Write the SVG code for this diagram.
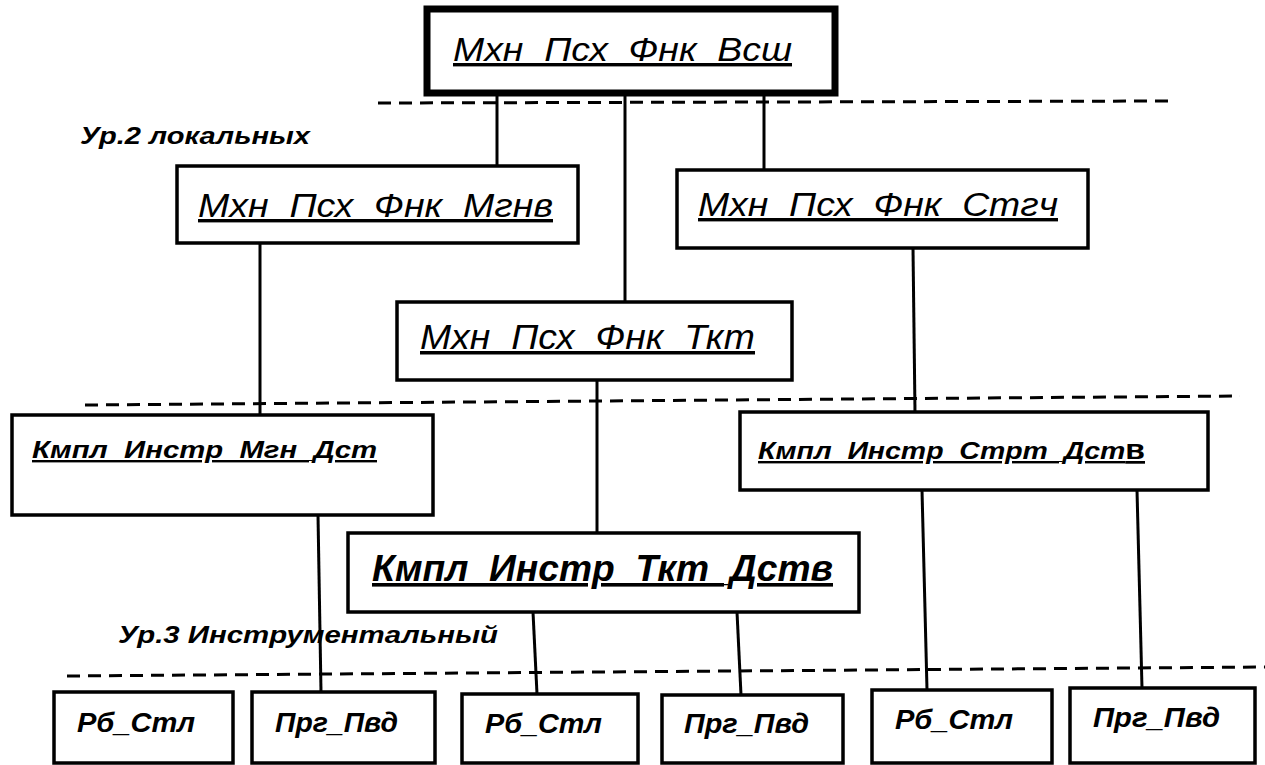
<svg xmlns="http://www.w3.org/2000/svg" width="1265" height="765" viewBox="0 0 1265 765">
<style>
.box{fill:#fff;stroke:#000;stroke-width:3.5}
.top{fill:#fff;stroke:#000;stroke-width:7}
.t{font-family:"Liberation Sans",Arial,sans-serif;font-style:italic;fill:#000;text-decoration:underline;text-decoration-thickness:2.5px}
.b{font-family:"Liberation Sans",Arial,sans-serif;font-style:italic;font-weight:bold;fill:#000}
.u{text-decoration:underline;text-decoration-thickness:3px}
.ln{stroke:#000;stroke-width:3;fill:none}
.dash{stroke:#000;stroke-width:3;fill:none;stroke-dasharray:13 8}
</style>
<rect width="1265" height="765" fill="#fff"/>
<g id="levels">
<line class="dash" x1="378" y1="103" x2="1175" y2="101"/>
<line class="dash" x1="85" y1="405" x2="1240" y2="396"/>
<line class="dash" x1="67" y1="676" x2="1265" y2="667"/>
<text class="b" x="80" y="144" font-size="23" textLength="230" lengthAdjust="spacingAndGlyphs">Ур.2 локальных</text>
<text class="b" x="118" y="643" font-size="24" textLength="380" lengthAdjust="spacingAndGlyphs">Ур.3 Инструментальный</text>
</g>
<g id="connectors">
<line class="ln" x1="497" y1="93" x2="497" y2="166"/>
<line class="ln" x1="625" y1="93" x2="625" y2="302"/>
<line class="ln" x1="764" y1="93" x2="764" y2="170"/>
<line class="ln" x1="260" y1="243" x2="260" y2="415"/>
<line class="ln" x1="913" y1="248" x2="915" y2="412"/>
<line class="ln" x1="597" y1="380" x2="597" y2="533"/>
<line class="ln" x1="318" y1="515" x2="321" y2="692"/>
<line class="ln" x1="533" y1="612" x2="537" y2="694"/>
<line class="ln" x1="737" y1="612" x2="741" y2="695"/>
<line class="ln" x1="922" y1="490" x2="927" y2="690"/>
<line class="ln" x1="1137" y1="490" x2="1142" y2="688"/>
</g>
<g id="n-vsh">
<rect class="top" x="427" y="9" width="408" height="84"/>
<text class="t" x="453" y="61" font-size="34" textLength="339" lengthAdjust="spacingAndGlyphs">Мхн_Псх_Фнк_Всш</text>
</g>
<g id="n-mgnv">
<rect class="box" x="177" y="166" width="401" height="77"/>
<text class="t" x="198" y="217" font-size="34" textLength="355" lengthAdjust="spacingAndGlyphs">Мхн_Псх_Фнк_Мгнв</text>
</g>
<g id="n-stgch">
<rect class="box" x="677" y="170" width="411" height="78"/>
<text class="t" x="698" y="216" font-size="34" textLength="360" lengthAdjust="spacingAndGlyphs">Мхн_Псх_Фнк_Стгч</text>
</g>
<g id="n-tkt">
<rect class="box" x="397" y="302" width="395" height="78"/>
<text class="t" x="420" y="349" font-size="35" textLength="335" lengthAdjust="spacingAndGlyphs">Мхн_Псх_Фнк_Ткт</text>
</g>
<g id="n-kmpl-mgn">
<rect class="box" x="12" y="415" width="421" height="100"/>
<text class="b u" x="32" y="458" font-size="24" textLength="345" lengthAdjust="spacingAndGlyphs">Кмпл_Инстр_Мгн_Дст</text>
</g>
<g id="n-kmpl-strt">
<rect class="box" x="740" y="412" width="468" height="78"/>
<text class="b u" x="758" y="459" font-size="24" textLength="387" lengthAdjust="spacingAndGlyphs">Кмпл_Инстр_Стрт_Дст<tspan font-style="normal" font-size="27">в</tspan></text>
</g>
<g id="n-kmpl-tkt">
<rect class="box" x="348" y="533" width="511" height="79"/>
<text class="b u" x="372" y="581" font-size="36" textLength="461" lengthAdjust="spacingAndGlyphs">Кмпл_Инстр_Ткт_Дств</text>
</g>
<g id="n-rb1">
<rect class="box" x="54" y="692" width="179" height="71"/>
<text class="b" x="77" y="732" font-size="27" textLength="118" lengthAdjust="spacingAndGlyphs">Рб_Стл</text>
</g>
<g id="n-prg1">
<rect class="box" x="252" y="692" width="183" height="71"/>
<text class="b" x="275" y="732" font-size="27" textLength="123" lengthAdjust="spacingAndGlyphs">Прг_Пвд</text>
</g>
<g id="n-rb2">
<rect class="box" x="462" y="694" width="176" height="69"/>
<text class="b" x="485" y="733" font-size="27" textLength="117" lengthAdjust="spacingAndGlyphs">Рб_Стл</text>
</g>
<g id="n-prg2">
<rect class="box" x="662" y="695" width="181" height="68"/>
<text class="b" x="684" y="733" font-size="27" textLength="125" lengthAdjust="spacingAndGlyphs">Прг_Пвд</text>
</g>
<g id="n-rb3">
<rect class="box" x="872" y="690" width="180" height="73"/>
<text class="b" x="895" y="729" font-size="27" textLength="118" lengthAdjust="spacingAndGlyphs">Рб_Стл</text>
</g>
<g id="n-prg3">
<rect class="box" x="1070" y="688" width="185" height="75"/>
<text class="b" x="1093" y="727" font-size="27" textLength="127" lengthAdjust="spacingAndGlyphs">Прг_Пвд</text>
</g>
</svg>
